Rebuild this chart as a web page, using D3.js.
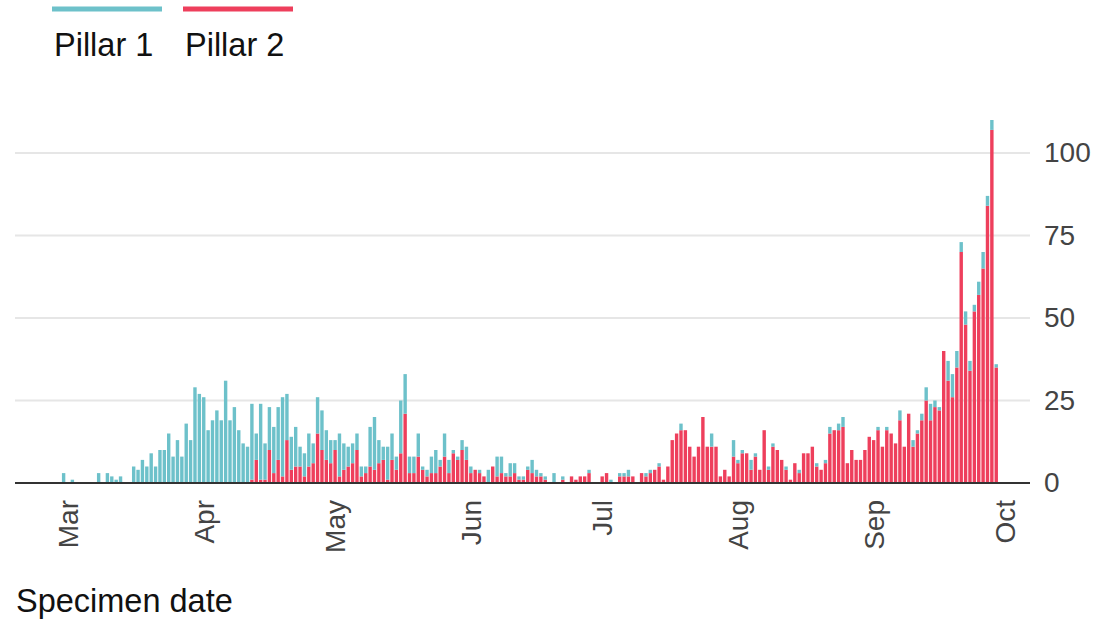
<!DOCTYPE html>
<html>
<head>
<meta charset="utf-8">
<script src="https://cdn.jsdelivr.net/npm/d3@7"></script>
<style>
  body { margin: 0; background: #fff; }
  text { font-family: "Liberation Sans", Arial, sans-serif; }
</style>
</head>
<body>
<div id="chart"></div>
<script>
const width = 1112
const height = 622

// daily cases by specimen date, starting 29 Feb 2020
const start_date = '2020-02-29'
const pillar1 = [
  3,0,1,0,0,0,0,0,3,0,
  3,2,1,2,0,0,5,4,7,5,
  9,5,10,10,15,8,13,8,18,13,
  29,27,26,16,19,22,19,31,19,23,
  16,12,11,23,8,23,11,13,14,16,
  24,14,10,12,6,7,10,6,11,12,
  9,7,3,13,8,6,6,5,3,2,
  12,16,7,4,10,8,4,16,12,5,
  5,7,1,2,5,7,2,7,4,1,
  1,3,4,2,0,1,0,4,0,6,
  5,1,4,3,1,1,1,4,2,1,
  1,0,3,0,1,0,0,0,0,0,
  1,0,0,0,0,1,0,1,1,2,
  0,0,0,1,1,0,1,0,0,0,
  0,2,0,0,0,0,0,0,4,0,
  0,0,0,5,1,1,0,3,1,0,
  0,1,1,0,0,1,0,0,1,0,
  0,0,1,0,1,2,0,2,3,0,
  0,0,0,0,0,0,1,0,1,0,
  0,3,0,0,2,1,2,4,5,2,
  1,0,6,7,5,3,4,3,2,4,
  5,3,3,1
]
const pillar2 = [
  0,0,0,0,0,0,0,0,0,0,
  0,0,0,0,0,0,0,0,0,0,
  0,0,0,0,0,0,0,0,0,0,
  0,0,0,0,0,0,0,0,0,0,
  0,0,0,1,7,1,1,10,3,7,
  2,13,4,5,5,2,5,6,15,10,
  7,6,10,2,4,5,6,10,2,3,
  5,4,6,7,1,7,4,9,21,3,
  3,8,4,2,3,3,5,8,3,9,
  7,10,7,3,4,3,2,0,5,2,
  3,2,2,3,1,1,4,3,2,2,
  1,0,0,0,1,0,2,1,2,2,
  3,0,0,2,3,0,0,2,2,2,
  2,0,3,2,3,4,5,1,5,13,
  15,16,16,11,8,11,20,11,11,11,
  2,4,2,8,6,9,9,4,8,4,
  16,4,11,10,7,4,1,6,3,9,
  9,11,5,4,6,15,16,16,17,6,
  10,7,7,10,14,13,16,11,16,15,
  12,19,11,21,11,15,19,25,19,23,
  22,40,31,26,35,70,48,34,52,57,
  65,84,107,35
]
const series_names = ['Pillar 1', 'Pillar 2']
const series_colors = ['#6dc1ca', '#ee3f5c']
const y_ticks = [0, 25, 50, 75, 100]
const x_title = 'Specimen date'

const day0 = new Date(start_date + 'T00:00:00Z')
const rows = pillar1.map(function(v, i) {
    return { date: d3.utcDay.offset(day0, i), p1: v, p2: pillar2[i] }
})

const svg = d3.select('#chart')
    .append('svg')
    .attr('width', width)
    .attr('height', height)

const x = d3.scaleUtc()
    .domain([new Date('2020-03-01T00:00:00Z'), new Date('2020-10-01T00:00:00Z')])
    .range([68, 1005])
const y = d3.scaleLinear()
    .domain([0, 100])
    .range([483, 153])

const grid_left = 15
const grid_right = 1030
const bar_w = 3.4

// gridlines
svg.append('g')
    .selectAll('line')
    .data(y_ticks.filter(d => d > 0))
    .enter()
    .append('line')
    .attr('x1', grid_left)
    .attr('x2', grid_right)
    .attr('y1', d => y(d))
    .attr('y2', d => y(d))
    .attr('stroke', '#e6e6e6')
    .attr('stroke-width', 2)

// stacked bars
const stack = d3.stack().keys(['p2', 'p1'])(rows)
const key_color = { p1: series_colors[0], p2: series_colors[1] }
svg.append('g')
    .selectAll('g')
    .data(stack)
    .enter()
    .append('g')
    .attr('fill', d => key_color[d.key])
    .selectAll('rect')
    .data(d => d.filter(s => s[1] > s[0]))
    .enter()
    .append('rect')
    .attr('x', d => x(d.data.date) - bar_w / 2)
    .attr('width', bar_w)
    .attr('y', d => y(d[1]))
    .attr('height', d => y(d[0]) - y(d[1]))

// baseline
svg.append('line')
    .attr('x1', grid_left)
    .attr('x2', grid_right)
    .attr('y1', y(0))
    .attr('y2', y(0))
    .attr('stroke', '#333')
    .attr('stroke-width', 2)

// y axis on the right
const y_axis = svg.append('g')
    .attr('transform', `translate(${grid_right + 14},0)`)
    .call(d3.axisRight(y).tickValues(y_ticks).tickSize(0).tickPadding(0))
y_axis.select('.domain').remove()
y_axis.selectAll('text')
    .attr('font-size', 28)
    .attr('fill', '#444')
    .attr('font-family', '"Liberation Sans", Arial, sans-serif')

// x axis with rotated month labels
const x_axis = svg.append('g')
    .attr('transform', `translate(0,${y(0)})`)
    .call(d3.axisBottom(x).ticks(d3.utcMonth.every(1)).tickFormat(d3.utcFormat('%b')).tickSize(0))
x_axis.select('.domain').remove()
x_axis.selectAll('text')
    .attr('font-size', 28)
    .attr('fill', '#444')
    .attr('font-family', '"Liberation Sans", Arial, sans-serif')
    .attr('text-anchor', 'end')
    .attr('transform', 'rotate(-90)')
    .attr('x', -17)
    .attr('y', 0)
    .attr('dy', '0.35em')

// axis title
svg.append('text')
    .attr('x', 16)
    .attr('y', 612)
    .attr('font-size', 32.5)
    .attr('fill', '#111')
    .text(x_title)

// legend
const legend = svg.append('g')
series_names.forEach(function(name, i) {
    const lx = 52 + i * 131
    legend.append('line')
        .attr('x1', lx)
        .attr('x2', lx + 110)
        .attr('y1', 9)
        .attr('y2', 9)
        .attr('stroke', series_colors[i])
        .attr('stroke-width', 5)
    legend.append('text')
        .attr('x', lx + 2)
        .attr('y', 56)
        .attr('font-size', 32.5)
        .attr('fill', '#111')
        .text(name)
})
</script>
</body>
</html>
